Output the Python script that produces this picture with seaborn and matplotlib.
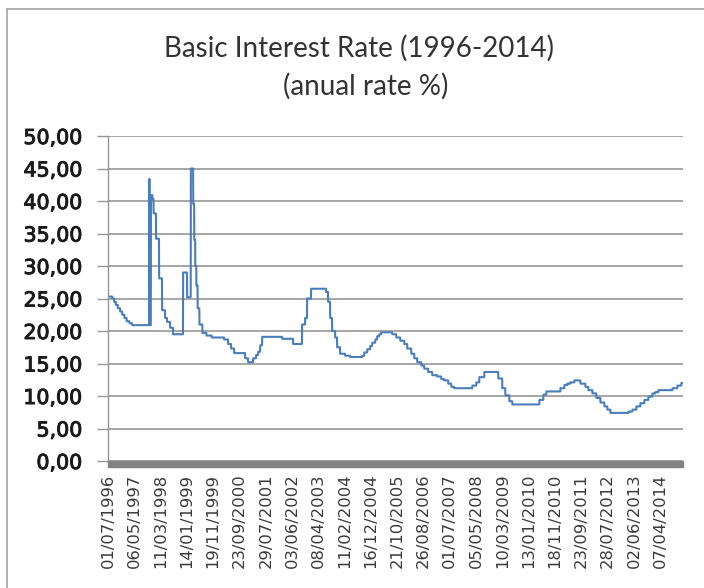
import numpy as np
import pandas as pd
import matplotlib
matplotlib.use("Agg")
import matplotlib.pyplot as plt
import matplotlib.patheffects as pe
from matplotlib.patches import Rectangle
from matplotlib.lines import Line2D
import seaborn as sns

# Basic interest rate (annual %), stored as the dates on which the rate changed
change_dates = [
    "1996-07-01", "1996-08-20", "1996-09-10", "1996-10-01", "1996-10-25",
    "1996-11-20", "1996-12-15", "1997-01-10", "1997-02-05", "1997-03-10",
    "1997-04-10", "1997-10-30", "1997-10-31", "1997-11-17", "1997-12-05",
    "1997-12-18", "1998-01-16", "1998-02-21", "1998-03-28", "1998-05-02",
    "1998-05-26", "1998-06-30", "1998-08-04", "1998-11-30", "1999-01-16",
    "1999-03-01", "1999-03-29", "1999-04-10", "1999-04-22", "1999-05-05",
    "1999-05-20", "1999-06-10", "1999-07-15", "1999-09-01", "1999-11-01",
    "2000-03-26", "2000-05-12", "2000-06-16", "2000-07-22", "2000-11-28",
    "2001-01-02", "2001-03-02", "2001-04-06", "2001-04-30", "2001-05-24",
    "2001-06-16", "2002-02-06", "2002-06-15", "2002-09-28", "2002-11-03",
    "2002-11-26", "2003-01-12", "2003-07-08", "2003-07-31", "2003-08-24",
    "2003-09-16", "2003-10-22", "2003-11-14", "2003-12-19", "2004-02-16",
    "2004-04-15", "2004-09-04", "2004-09-28", "2004-11-02", "2004-12-07",
    "2004-12-31", "2005-02-04", "2005-02-27", "2005-03-23", "2005-04-15",
    "2005-08-23", "2005-10-09", "2005-11-25", "2006-01-11", "2006-02-15",
    "2006-04-03", "2006-05-09", "2006-06-13", "2006-07-30", "2006-09-03",
    "2006-10-20", "2006-12-06", "2007-02-03", "2007-03-22", "2007-04-26",
    "2007-06-12", "2007-07-18", "2007-08-22", "2008-03-21", "2008-05-07",
    "2008-06-11", "2008-08-09", "2009-01-20", "2009-03-08", "2009-04-13",
    "2009-05-30", "2009-07-04", "2010-05-18", "2010-07-04", "2010-08-08",
    "2011-01-20", "2011-03-08", "2011-04-12", "2011-05-17", "2011-07-03",
    "2011-09-12", "2011-11-10", "2011-12-15", "2012-01-31", "2012-03-18",
    "2012-05-04", "2012-06-20", "2012-07-25", "2012-08-30", "2013-03-29",
    "2013-05-15", "2013-07-01", "2013-08-17", "2013-10-03", "2013-11-19",
    "2014-01-05", "2014-02-10", "2014-03-17", "2014-08-29", "2014-10-26",
    "2014-12-11",
]
rates = [
    25.3, 25.0, 24.5, 24.0, 23.5,
    23.0, 22.5, 22.0, 21.5, 21.2,
    20.9, 43.4, 20.9, 40.9, 40.3,
    38.1, 34.2, 28.1, 23.2, 22.0,
    21.4, 20.5, 19.5, 29.0, 25.2,
    45.0, 39.5, 34.0, 30.0, 27.0,
    23.5, 21.0, 19.7, 19.3, 19.0,
    18.7, 18.0, 17.3, 16.6, 15.8,
    15.2, 15.8, 16.3, 16.8, 17.8,
    19.1, 18.8, 18.0, 21.0, 22.0,
    25.0, 26.5, 26.0, 24.5, 22.0,
    20.0, 19.0, 17.5, 16.5, 16.2,
    16.0, 16.2, 16.7, 17.2, 17.7,
    18.2, 18.7, 19.2, 19.5, 19.8,
    19.5, 19.0, 18.5, 18.0, 17.3,
    16.5, 15.8, 15.2, 14.7, 14.2,
    13.7, 13.2, 13.0, 12.6, 12.4,
    11.9, 11.4, 11.2, 11.6, 12.1,
    12.9, 13.7, 12.7, 11.2, 10.1,
    9.2, 8.7, 9.4, 10.2, 10.7,
    11.2, 11.7, 11.9, 12.1, 12.4,
    11.9, 11.4, 10.9, 10.4, 9.7,
    9.0, 8.4, 7.9, 7.4, 7.6,
    7.9, 8.4, 8.9, 9.4, 9.9,
    10.4, 10.6, 10.9, 11.2, 11.6,
    12.0,
]
period_start = "1996-07-01"
period_end = "2014-12-31"

tick_labels = [
    "01/07/1996", "06/05/1997", "11/03/1998", "14/01/1999", "19/11/1999",
    "23/09/2000", "29/07/2001", "03/06/2002", "08/04/2003", "11/02/2004",
    "16/12/2004", "21/10/2005", "26/08/2006", "01/07/2007", "05/05/2008",
    "10/03/2009", "13/01/2010", "18/11/2010", "23/09/2011", "28/07/2012",
    "02/06/2013", "07/04/2014",
]
y_ticks = [0, 5, 10, 15, 20, 25, 30, 35, 40, 45, 50]

# Daily series: each rate holds until the next change
steps = pd.Series(rates, index=pd.to_datetime(change_dates))
days = pd.date_range(period_start, period_end, freq="D")
daily = steps.reindex(days, method="ffill")
df = pd.DataFrame({"date": days, "rate": daily.values})

sns.set_theme(style="white")
plt.rcParams["font.family"] = ["DejaVu Sans"]

W, H = 704, 588
fig = plt.figure(figsize=(W / 100, H / 100), dpi=100)
fig.patch.set_facecolor("white")

x0, x1, y_top, y_bot = 108, 683, 136, 461
ax = fig.add_axes([x0 / W, (H - y_bot) / H, (x1 - x0) / W, (y_bot - y_top) / H])

sns.lineplot(data=df, x="date", y="rate", ax=ax, color="#4a7ebb",
             linewidth=1.5, estimator=None)

ax.set_xlim(pd.Timestamp(period_start), pd.Timestamp(period_end))
ax.set_ylim(0, 50)
ax.set_xlabel("")
ax.set_ylabel("")

grid_color = "#979797"
ax.set_yticks(y_ticks)
ax.set_yticklabels([f"{v:.2f}".replace(".", ",") for v in y_ticks])
ax.yaxis.grid(True, color=grid_color, linewidth=1.2)
ax.xaxis.grid(False)
ax.set_axisbelow(True)

tick_pos = pd.to_datetime(tick_labels, format="%d/%m/%Y")
ax.set_xticks(tick_pos)
ax.set_xticklabels(tick_labels, rotation=90)

for side in ("top", "right", "bottom"):
    ax.spines[side].set_visible(False)
ax.spines["left"].set_color(grid_color)
ax.spines["left"].set_linewidth(1.0)

ax.tick_params(axis="y", left=True, length=8, width=1.0, color=grid_color,
               pad=10.5, labelsize=14.8, labelcolor="#1a1a1a")
ax.tick_params(axis="x", bottom=False, length=0, pad=9,
               labelsize=11.8, labelcolor="#3a3a3a")
for lbl in ax.get_yticklabels():
    lbl.set_path_effects([pe.withStroke(linewidth=0.7, foreground="#1a1a1a")])

# heavy grey base under the plot area
bar_h = 6 / (y_bot - y_top)
ax.add_patch(Rectangle((0, -bar_h), 1, bar_h, transform=ax.transAxes,
                       color="#838383", clip_on=False, zorder=3))

# chart frame (left and top edges)
fig.add_artist(Line2D([7 / W, 7 / W], [0, 1 - 9 / H], color="#a3a3a3", lw=1.2))
fig.add_artist(Line2D([7 / W, 1], [1 - 9 / H, 1 - 9 / H], color="#a3a3a3", lw=1.2))

fig.text(359 / W, 1 - 48 / H, "Basic Interest Rate (1996-2014)", ha="center",
         va="center", fontsize=20, family="Lato", color="#333333")
fig.text(366 / W, 1 - 86 / H, "(anual rate %)", ha="center",
         va="center", fontsize=20, family="Lato", color="#333333")

fig.savefig("out.png", dpi=100)
